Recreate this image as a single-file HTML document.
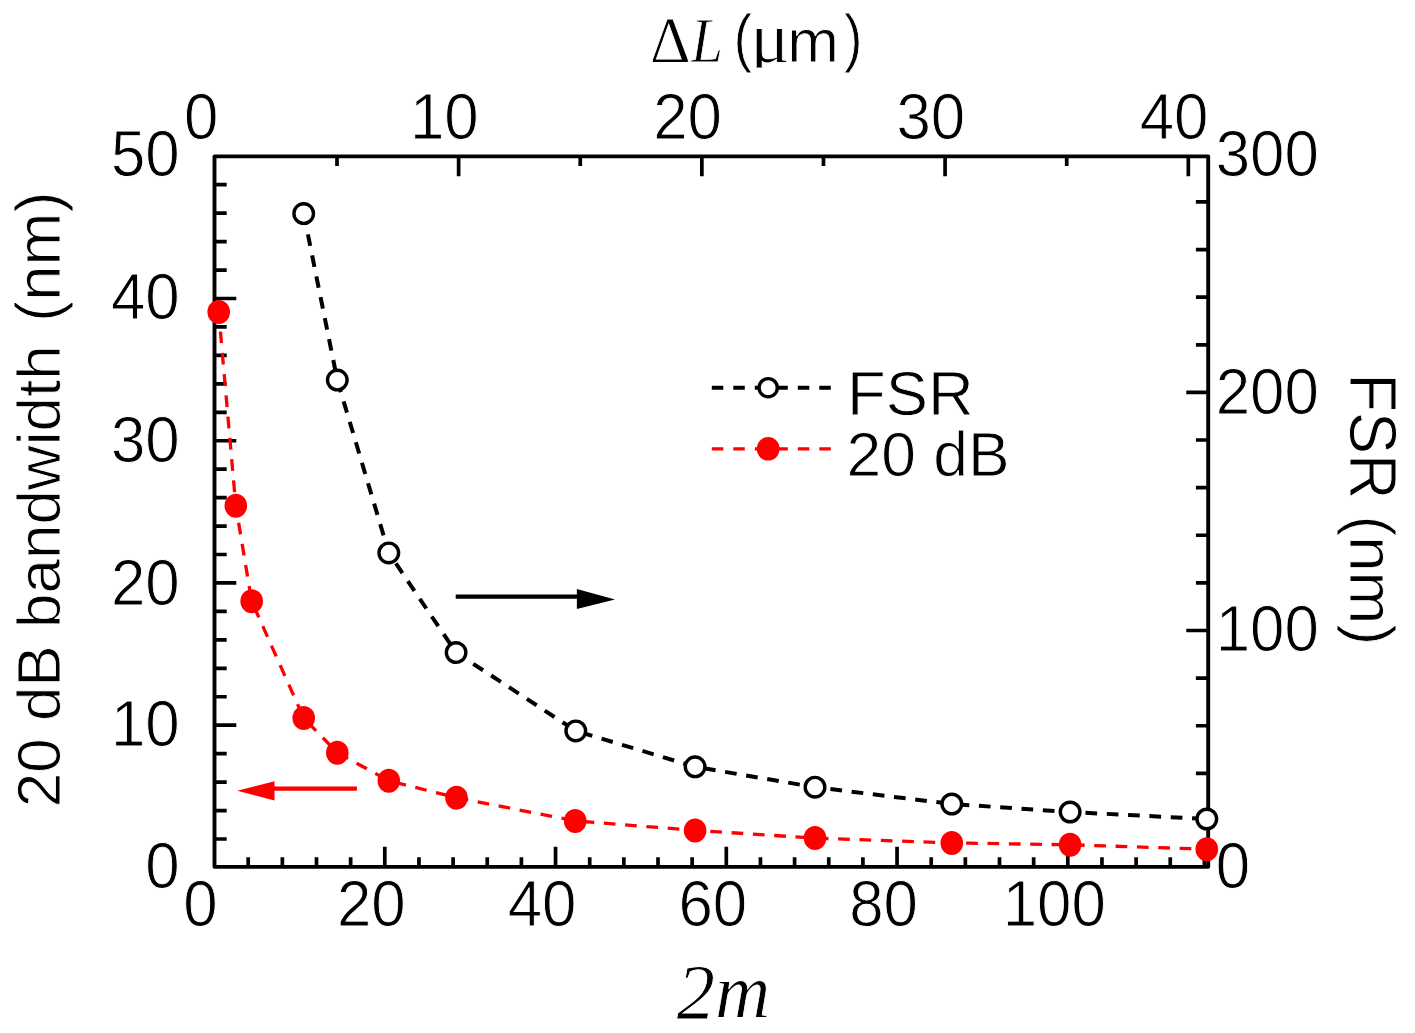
<!DOCTYPE html>
<html lang="en"><head><meta charset="utf-8"><title>FSR and 20 dB bandwidth vs 2m</title>
<style>html,body{margin:0;padding:0;background:#fff}body{width:1415px;height:1033px;overflow:hidden}svg{display:block}.s{font-family:"Liberation Sans",Arial,sans-serif;fill:#000;stroke:#fff;stroke-width:0.9px;paint-order:fill stroke}.t{font-family:"Liberation Serif","Times New Roman",serif;fill:#000;stroke:#fff;stroke-width:0.8px;paint-order:fill stroke}</style></head><body>
<svg width="1415" height="1033" viewBox="0 0 1415 1033">
<rect width="1415" height="1033" fill="#fff"/>
<defs><filter id="soft" x="0" y="0" width="1415" height="1033" filterUnits="userSpaceOnUse"><feGaussianBlur stdDeviation="0.65 0.4"/></filter></defs>
<g filter="url(#soft)">
<path d="M214.5 839h12.2M214.5 810.55h12.2M214.5 782.11h12.2M214.5 753.66h12.2M214.5 725.21h21.8M214.5 696.76h12.2M214.5 668.31h12.2M214.5 639.87h12.2M214.5 611.42h12.2M214.5 582.97h21.8M214.5 554.52h12.2M214.5 526.07h12.2M214.5 497.63h12.2M214.5 469.18h12.2M214.5 440.73h21.8M214.5 412.28h12.2M214.5 383.83h12.2M214.5 355.39h12.2M214.5 326.94h12.2M214.5 298.49h21.8M214.5 270.04h12.2M214.5 241.59h12.2M214.5 213.15h12.2M214.5 184.7h12.2M1208.2 820.98h-12.3M1208.2 773.36h-12.3M1208.2 725.74h-12.3M1208.2 678.12h-12.3M1208.2 630.5h-21.9M1208.2 582.88h-12.3M1208.2 535.26h-12.3M1208.2 487.64h-12.3M1208.2 440.02h-12.3M1208.2 392.4h-21.9M1208.2 344.78h-12.3M1208.2 297.16h-12.3M1208.2 249.54h-12.3M1208.2 201.92h-12.3M248.2 866.85v-9.7M282.35 866.85v-9.7M316.5 866.85v-9.7M350.65 866.85v-9.7M384.8 866.85v-20M418.95 866.85v-9.7M453.1 866.85v-9.7M487.25 866.85v-9.7M521.4 866.85v-9.7M555.55 866.85v-20M589.7 866.85v-9.7M623.85 866.85v-9.7M658 866.85v-9.7M692.15 866.85v-9.7M726.3 866.85v-20M760.45 866.85v-9.7M794.6 866.85v-9.7M828.75 866.85v-9.7M862.9 866.85v-9.7M897.05 866.85v-20M931.2 866.85v-9.7M965.35 866.85v-9.7M999.5 866.85v-9.7M1033.65 866.85v-9.7M1067.8 866.85v-20M1101.95 866.85v-9.7M1136.1 866.85v-9.7M1170.25 866.85v-9.7M1204.4 866.85v-9.7M337.01 156.35v9.7M458.63 156.35v20M580.25 156.35v9.7M701.86 156.35v20M823.48 156.35v9.7M945.09 156.35v20M1066.71 156.35v9.7M1188.32 156.35v20" fill="none" stroke="#000" stroke-width="3.7"/>
<polyline points="303.7,213.6 337.3,380.1 388.8,552.9 456.1,652.6 575.8,730.9 695.1,766.8 815,787.2 951.8,804 1070.1,812 1206.8,819" fill="none" stroke="#000" stroke-width="4" stroke-dasharray="11.7 9.65" stroke-dashoffset="0.1"/>
<polyline points="218.7,312 235.8,505.8 251.7,601.3 303.7,718 337.3,752.7 388.8,780.8 456.5,797.7 575.2,820.9 695.1,830.4 815,838.1 951.8,842.9 1070.1,844.8 1206.8,849.2" fill="none" stroke="#f00" stroke-width="3.3" stroke-dasharray="11.7 9.65" stroke-dashoffset="1.7"/>
<rect x="214.5" y="156.35" width="993.7" height="710.5" fill="none" stroke="#000" stroke-width="3.9" stroke-linejoin="round"/>
<circle cx="303.7" cy="213.6" r="9.8" fill="#fff" stroke="#000" stroke-width="3.4"/>
<circle cx="337.3" cy="380.1" r="9.8" fill="#fff" stroke="#000" stroke-width="3.4"/>
<circle cx="388.8" cy="552.9" r="9.8" fill="#fff" stroke="#000" stroke-width="3.4"/>
<circle cx="456.1" cy="652.6" r="9.8" fill="#fff" stroke="#000" stroke-width="3.4"/>
<circle cx="575.8" cy="730.9" r="9.8" fill="#fff" stroke="#000" stroke-width="3.4"/>
<circle cx="695.1" cy="766.8" r="9.8" fill="#fff" stroke="#000" stroke-width="3.4"/>
<circle cx="815" cy="787.2" r="9.8" fill="#fff" stroke="#000" stroke-width="3.4"/>
<circle cx="951.8" cy="804" r="9.8" fill="#fff" stroke="#000" stroke-width="3.4"/>
<circle cx="1070.1" cy="812" r="9.8" fill="#fff" stroke="#000" stroke-width="3.4"/>
<circle cx="1206.8" cy="819" r="9.8" fill="#fff" stroke="#000" stroke-width="3.4"/>
<ellipse cx="218.7" cy="312" rx="11.3" ry="12" fill="#f00"/>
<ellipse cx="235.8" cy="505.8" rx="11.3" ry="12" fill="#f00"/>
<ellipse cx="251.7" cy="601.3" rx="11.3" ry="12" fill="#f00"/>
<ellipse cx="303.7" cy="718" rx="11.3" ry="12" fill="#f00"/>
<ellipse cx="337.3" cy="752.7" rx="11.3" ry="12" fill="#f00"/>
<ellipse cx="388.8" cy="780.8" rx="11.3" ry="12" fill="#f00"/>
<ellipse cx="456.5" cy="797.7" rx="11.3" ry="12" fill="#f00"/>
<ellipse cx="575.2" cy="820.9" rx="11.3" ry="12" fill="#f00"/>
<ellipse cx="695.1" cy="830.4" rx="11.3" ry="12" fill="#f00"/>
<ellipse cx="815" cy="838.1" rx="11.3" ry="12" fill="#f00"/>
<ellipse cx="951.8" cy="842.9" rx="11.3" ry="12" fill="#f00"/>
<ellipse cx="1070.1" cy="844.8" rx="11.3" ry="12" fill="#f00"/>
<ellipse cx="1206.8" cy="849.2" rx="11.3" ry="12" fill="#f00"/>
<path d="M455.7 596.6H578" stroke="#000" stroke-width="4.2" fill="none"/>
<path d="M576.9 588.9L615 599.4L576.9 609.1Z" fill="#000"/>
<path d="M356.9 788.7H273.5" stroke="#f00" stroke-width="4.2" fill="none"/>
<path d="M274.5 781.2L237.2 790.8L274.5 800.6Z" fill="#f00"/>
<path d="M711.8 387.7H831" stroke="#000" stroke-width="4" stroke-dasharray="11.5 10" fill="none"/>
<path d="M711.8 448.8H831" stroke="#f00" stroke-width="3.3" stroke-dasharray="11.5 10" fill="none"/>
<circle cx="768.2" cy="387.7" r="9.1" fill="#fff" stroke="#000" stroke-width="3.4"/>
<ellipse cx="768.2" cy="448.8" rx="11.4" ry="11.8" fill="#f00"/>
<text class="s" font-size="63.3" transform="translate(847 415.2)">FSR</text>
<text class="s" font-size="62.4" transform="translate(846.6 475.6)">20 dB</text>
<text class="s" font-size="61.8" transform="translate(179.7 175.85) scale(1 1.06)" text-anchor="end">50</text>
<text class="s" font-size="61.8" transform="translate(179.7 318.9) scale(1 1.06)" text-anchor="end">40</text>
<text class="s" font-size="61.8" transform="translate(179.7 461.5) scale(1 1.06)" text-anchor="end">30</text>
<text class="s" font-size="61.8" transform="translate(179.7 604.5) scale(1 1.06)" text-anchor="end">20</text>
<text class="s" font-size="61.8" transform="translate(179.7 745.8) scale(1 1.06)" text-anchor="end">10</text>
<text class="s" font-size="61.8" transform="translate(179.7 888.1) scale(1 1.06)" text-anchor="end">0</text>
<text class="s" font-size="61.8" transform="translate(1215.7 175.85) scale(1 1.06)">300</text>
<text class="s" font-size="61.8" transform="translate(1215.7 413.6) scale(1 1.06)">200</text>
<text class="s" font-size="61.8" transform="translate(1215.7 650.7) scale(1 1.06)">100</text>
<text class="s" font-size="61.8" transform="translate(1215.7 888.1) scale(1 1.06)">0</text>
<text class="s" font-size="61.8" transform="translate(200.55 925.5) scale(1 1.06)" text-anchor="middle">0</text>
<text class="s" font-size="61.8" transform="translate(371.3 925.5) scale(1 1.06)" text-anchor="middle">20</text>
<text class="s" font-size="61.8" transform="translate(542.05 925.5) scale(1 1.06)" text-anchor="middle">40</text>
<text class="s" font-size="61.8" transform="translate(712.8 925.5) scale(1 1.06)" text-anchor="middle">60</text>
<text class="s" font-size="61.8" transform="translate(883.55 925.5) scale(1 1.06)" text-anchor="middle">80</text>
<text class="s" font-size="61.8" transform="translate(1054.3 925.5) scale(1 1.06)" text-anchor="middle">100</text>
<text class="s" font-size="61.8" transform="translate(201.1 138.8) scale(1 1.06)" text-anchor="middle">0</text>
<text class="s" font-size="61.8" transform="translate(444.33 138.8) scale(1 1.06)" text-anchor="middle">10</text>
<text class="s" font-size="61.8" transform="translate(687.56 138.8) scale(1 1.06)" text-anchor="middle">20</text>
<text class="s" font-size="61.8" transform="translate(930.79 138.8) scale(1 1.06)" text-anchor="middle">30</text>
<text class="s" font-size="61.8" transform="translate(1174.02 138.8) scale(1 1.06)" text-anchor="middle">40</text>
<text class="s" font-size="62" transform="translate(60.2 807.3) rotate(-90)">20 dB bandwidth</text>
<text class="s" font-size="63.6" transform="translate(60.2 322) rotate(-90)">(nm)</text>
<text class="s" font-size="63" transform="translate(1350.3 373.5) rotate(90) scale(1 1.045)">FSR</text>
<text class="s" font-size="63.4" transform="translate(1350.3 515.2) rotate(90)">(nm)</text>
<text class="t" font-size="63.2" transform="translate(649.9 62.1) scale(1 1.02)">Δ</text>
<text class="t" font-size="62" transform="translate(691 62) scale(0.93 1.03)" font-style="italic">L</text>
<text class="s" font-size="62" transform="translate(733.6 59.6) scale(0.9 1.03)">(</text>
<clipPath id="mu"><rect x="745" y="0" width="50" height="67.6"/></clipPath><g clip-path="url(#mu)">
<text class="t" font-size="72" transform="translate(750.2 61.6) scale(1.02 1.0)">μ</text>
</g>
<text class="s" font-size="62" transform="translate(787.2 61.6) scale(1 1)">m</text>
<text class="s" font-size="62" transform="translate(844 59.6) scale(0.9 1.03)">)</text>
<text class="t" font-size="76.5" transform="translate(676.8 1017.7) scale(1 1.03)" font-style="italic">2m</text>
</g>
</svg></body></html>
